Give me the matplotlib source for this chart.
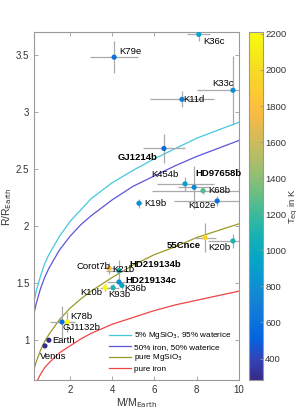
import matplotlib
matplotlib.use("Agg")
import matplotlib.pyplot as plt
from matplotlib.colors import LinearSegmentedColormap

plt.rcParams['font.family'] = ['Liberation Sans', 'DejaVu Sans']

# planets: name, mass (M_earth), radius (R_earth), errors, equilibrium temperature
names = ["K79e", "K36c", "K33c", "K11d", "GJ1214b", "K454b", "HD97658b", "K68b",
         "K102e", "K19b", "55Cnce", "K20b", "Corot7b", "HD219134b", "HD219134c",
         "K36b", "K93b", "K10b", "K78b", "GJ1132b", "Earth", "Venus"]
mass = [4.09, 8.1, 9.72, 7.3, 6.45, 7.45, 7.88, 8.3,
        8.97, 5.27, 8.4, 9.72, 3.85, 4.32, 4.32,
        4.46, 4.04, 3.66, 1.86, 1.62, 1.0, 0.815]
radius = [3.48, 3.68, 3.19, 3.11, 2.68, 2.37, 2.34, 2.31,
          2.22, 2.2, 1.9, 1.87, 1.63, 1.61, 1.51,
          1.48, 1.46, 1.46, 1.16, 1.16, 1.0, 0.95]
mass_err = [1.15, 0.55, 1.7, 1.5, 1.0, 1.35, 0.75, 2.4,
            2.05, 0.12, 0.52, 1.2, 0.3, 0.6, 0.55,
            0.12, 0.3, 0.25, 0.4, 0.55, 0.0, 0.0]
radius_err = [0.14, 0.06, 0.3, 0.07, 0.13, 0.06, 0.19, 0.03,
              0.04, 0.04, 0.13, 0.06, 0.05, 0.09, 0.03,
              0.03, 0.03, 0.03, 0.09, 0.14, 0.0, 0.0]
teq = [600, 930, 790, 690, 560, 900, 750, 1250,
       600, 800, 1950, 1100, 1800, 1030, 780,
       980, 1100, 2200, 2200, 580, 255, 300]
bold = ["GJ1214b", "HD97658b", "55Cnce", "HD219134b", "HD219134c"]

# mass-radius relations
curve_mass = [0.25, 0.3, 0.4, 0.6, 0.8, 1, 1.5, 2, 2.5, 3, 4, 5, 6, 7, 8, 9, 10]
r_water = [1.28, 1.34, 1.43, 1.56, 1.67, 1.75, 1.91, 2.04, 2.14, 2.24, 2.38, 2.49,
           2.59, 2.68, 2.77, 2.84, 2.91]
r_iron_water = [1.19, 1.24, 1.32, 1.45, 1.55, 1.63, 1.79, 1.91, 2.01, 2.09, 2.23, 2.35,
                2.44, 2.53, 2.61, 2.68, 2.75]
r_mgsio3 = [0.71, 0.75, 0.81, 0.91, 0.99, 1.05, 1.18, 1.28, 1.36, 1.43, 1.55, 1.66,
            1.75, 1.82, 1.90, 1.96, 2.02]
r_iron = [0.56, 0.59, 0.63, 0.70, 0.76, 0.80, 0.89, 0.95, 1.01, 1.06, 1.14, 1.20,
          1.26, 1.31, 1.35, 1.39, 1.43]

# label offsets in pixels (dx, dy, ha)
offsets = {
    "K79e": (5, 6, "left"), "K36c": (4, -7, "left"), "K33c": (1, 7, "right"),
    "K11d": (1, 0, "left"), "GJ1214b": (-7, -9, "right"), "K454b": (-7, 9, "right"),
    "HD97658b": (1, 14, "left"), "K68b": (5, 0, "left"), "K102e": (-2, -5, "right"),
    "K19b": (5, 0, "left"), "55Cnce": (-4, -8, "right"), "K20b": (-3, -7, "right"),
    "Corot7b": (1, 2, "right"), "HD219134b": (10, 6, "left"), "HD219134c": (6, 2, "left"),
    "K36b": (2, -3, "left"), "K93b": (-5, -7, "left"), "K10b": (-3, -5, "right"),
    "K78b": (3, 5, "left"), "GJ1132b": (1, -6, "left"), "Earth": (3, 0, "left"),
    "Venus": (-5, -11, "left"),
}

parula_pts = [
    (0.2081, 0.1663, 0.5292), (0.1959, 0.2645, 0.7279), (0.0117, 0.3875, 0.8820),
    (0.0498, 0.4586, 0.8641), (0.0793, 0.5200, 0.8312), (0.0343, 0.5966, 0.8199),
    (0.0228, 0.6535, 0.7768), (0.0843, 0.6928, 0.7062), (0.2178, 0.7250, 0.6193),
    (0.3953, 0.7459, 0.5244), (0.5709, 0.7485, 0.4494), (0.7184, 0.7411, 0.3905),
    (0.8507, 0.7299, 0.3360), (0.9739, 0.7314, 0.2666), (0.9955, 0.7861, 0.1967),
    (0.9697, 0.8481, 0.1475), (0.9598, 0.9218, 0.0948), (0.9763, 0.9831, 0.0538),
]
parula = LinearSegmentedColormap.from_list("parula", parula_pts)

fig = plt.figure(figsize=(2.99, 4.11), dpi=100)
ax = fig.add_axes([0.114, 0.075, 0.685, 0.847])
cax = fig.add_axes([0.833, 0.075, 0.047, 0.847])

ax.plot(curve_mass, r_water, color="#45c8e0", lw=0.9, label="5% MgSiO$_3$, 95% waterice")
ax.plot(curve_mass, r_iron_water, color="#5b55d8", lw=0.9, label="50% iron, 50% waterice")
ax.plot(curve_mass, r_mgsio3, color="#9a9a25", lw=0.9, label="pure MgSiO$_3$")
ax.plot(curve_mass, r_iron, color="#f24444", lw=0.9, label="pure iron")

ax.errorbar(mass, radius, xerr=mass_err, yerr=radius_err, fmt="none",
            ecolor="#aaaaaa", elinewidth=0.9, capsize=0, zorder=3)
sc = ax.scatter(mass, radius, c=teq, cmap=parula, vmin=280, vmax=2210,
                s=14, zorder=4, linewidths=0)

for n, m, r in zip(names, mass, radius):
    dx, dy, ha = offsets[n]
    ax.annotate(n, (m, r), xytext=(dx * 0.72, dy * 0.72), textcoords="offset points",
                ha=ha, va="center", fontsize=6.8,
                fontweight="bold" if n in bold else "normal", zorder=5)
ax.annotate("K21b", (3.85, 1.63), xytext=(2.3, -1.2), textcoords="offset points",
            ha="left", va="center", fontsize=6.8, zorder=5)

ax.set_xlim(0.3, 10)
ax.set_ylim(0.65, 3.7)
ax.set_xticks([2, 4, 6, 8, 10])
ax.set_yticks([1, 1.5, 2, 2.5, 3, 3.5])
ax.set_yticklabels(["1", "1.5", "2", "2.5", "3", "3.5"])
ax.tick_params(direction="in", top=True, right=True, length=3, width=0.6,
               labelsize=7, colors="#999999", labelcolor="#333333")
for s in ax.spines.values():
    s.set_color("#999999")
    s.set_linewidth(0.8)
ax.set_xlabel("M/M$_{\\rm Earth}$", fontsize=7.5, color="#333333", labelpad=1)
ax.set_ylabel("R/R$_{\\rm Earth}$", fontsize=7.5, color="#333333", labelpad=1)

leg = ax.legend(loc="lower right", frameon=False, fontsize=5.9, handlelength=2.7,
                handletextpad=0.3, labelspacing=0.2, borderaxespad=0.5)

cb = fig.colorbar(sc, cax=cax)
cb.set_ticks([400, 600, 800, 1000, 1200, 1400, 1600, 1800, 2000, 2200])
cb.ax.tick_params(direction="in", length=2.5, width=0.6, labelsize=6.8, pad=1.5,
                  colors="#999999", labelcolor="#333333")
cb.outline.set_edgecolor("#999999")
cb.outline.set_linewidth(0.8)
cb.set_label("T$_{\\rm eq}$ in K", fontsize=6.8, color="#333333", labelpad=0)

fig.savefig("out.png", dpi=100)
